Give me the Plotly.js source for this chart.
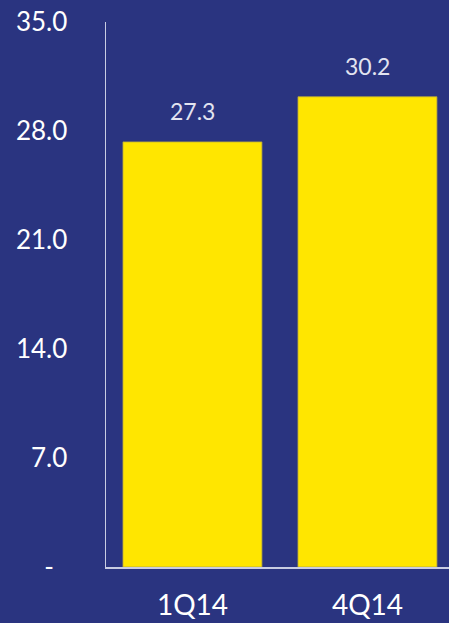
<!DOCTYPE html>
<html>
<head>
<meta charset="utf-8">
<script src="https://cdn.plot.ly/plotly-3.0.1.min.js"></script>
<style>html,body{margin:0;padding:0;background:#2A3480;}</style>
</head>
<body>
<div id="chart" style="width:449px;height:623px;"></div>
<script>
const categories = ['1Q14', '4Q14'];
const values = [27.3, 30.2];
const tickVals = [0, 7, 14, 21, 28, 35];
const tickText = ['-\u00a0\u00a0', '7.0', '14.0', '21.0', '28.0', '35.0'];

const bg = '#2A3480';
const trace = {
  type: 'bar',
  x: categories,
  y: values,
  marker: {color: '#FFE600', line: {color: '#B5A640', width: 0.8}},
  hoverinfo: 'skip'
};

const annotations = categories.map((c, i) => ({
  x: c, y: values[i], xref: 'x', yref: 'y',
  text: values[i].toFixed(1),
  showarrow: false, yanchor: 'middle', yshift: 31,
  font: {family: 'Lato, Carlito, sans-serif', size: 23, color: '#E2E4F0'}
}));

const layout = {
  width: 449, height: 623,
  paper_bgcolor: bg, plot_bgcolor: bg,
  margin: {l: 106, r: 0, t: 22, b: 56},
  bargap: 0.206,
  showlegend: false,
  font: {family: 'Lato, Carlito, sans-serif', color: '#FFFFFF'},
  xaxis: {
    type: 'category',
    range: [-0.494, 1.466],
    showline: true, linecolor: '#C8CCE2', linewidth: 1.5,
    showgrid: false, zeroline: false,
    ticks: '', ticklabelstandoff: 13,
    tickfont: {family: 'Lato, Carlito, sans-serif', size: 28, color: '#FFFFFF'},
    fixedrange: true
  },
  yaxis: {
    range: [0, 35],
    tickmode: 'array', tickvals: tickVals, ticktext: tickText,
    showline: true, linecolor: '#C8CCE2', linewidth: 1.5,
    showgrid: false, zeroline: false,
    ticks: '', ticklabelstandoff: 32,
    tickfont: {family: 'Lato, Carlito, sans-serif', size: 26, color: '#FFFFFF'},
    fixedrange: true
  },
  annotations: annotations
};

Plotly.newPlot('chart', [trace], layout, {displayModeBar: false, staticPlot: true});
</script>
</body>
</html>
